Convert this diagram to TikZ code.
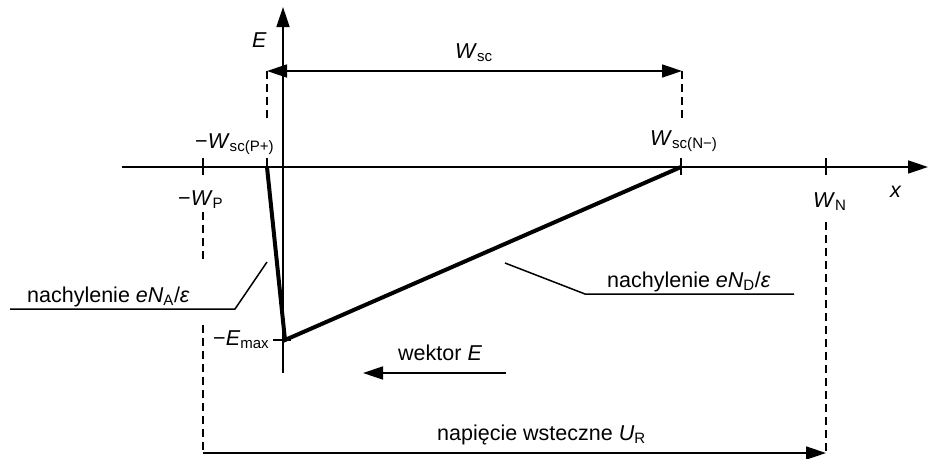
\documentclass[tikz,border=0pt]{standalone}
\usepackage{fontspec}
\setmainfont{Liberation Sans}
\usetikzlibrary{arrows.meta}
\newcommand{\vi}[1]{\textit{#1}}
\begin{document}
\begin{tikzpicture}[x=1pt,y=-1pt,
  axis/.style={line width=1.5pt},
  tip/.style={-{Triangle[length=20pt,width=13pt]}},
  bothtip/.style={{Triangle[length=20pt,width=13pt]}-{Triangle[length=20pt,width=13pt]}},
  guide/.style={line width=1.5pt, dash pattern=on 8pt off 5pt},
  field/.style={line width=4pt, line join=miter},
  leader/.style={line width=1.5pt},
  lbl/.style={inner sep=0pt, anchor=base west, font=\fontsize{21.5}{26}\selectfont},
]
\useasboundingbox (0,0) rectangle (929,458);
% axes
\coordinate (xs) at (122,167);
\coordinate (xe) at (928,167);
\coordinate (Es) at (283,373);
\coordinate (Ee) at (283,7);
\draw[axis,tip] (xs) -- (xe);
\draw[axis,tip] (Es) -- (Ee);
% ticks
\coordinate (tWPa) at (203,158); \coordinate (tWPb) at (203,175);
\coordinate (tPa) at (267,158);  \coordinate (tPb) at (267,167);
\coordinate (tNa) at (681,158);  \coordinate (tNb) at (681,175);
\coordinate (tWNa) at (826,158); \coordinate (tWNb) at (826,175);
\draw[axis] (tWPa) -- (tWPb);
\draw[axis] (tPa) -- (tPb);
\draw[axis] (tNa) -- (tNb);
\draw[axis] (tWNa) -- (tWNb);
% field profile
\coordinate (fP) at (267,167);
\coordinate (fM) at (285,340);
\coordinate (fN) at (681,167);
\draw[field] (fP) -- (fM) -- (fN);
\coordinate (emA) at (273,340); \coordinate (emB) at (291,340);
\draw[axis] (emA) -- (emB);
% Wsc dimension
\coordinate (wsL) at (267,71); \coordinate (wsR) at (682,71);
\coordinate (wsLb) at (267,118); \coordinate (wsRb) at (682,120);
\draw[axis,bothtip] (wsL) -- (wsR);
\draw[guide] (wsL) -- (wsLb);
\draw[guide] (wsR) -- (wsRb);
% lower guides
\coordinate (gPa) at (203,212); \coordinate (gPb) at (203,262);
\coordinate (gPc) at (203,325); \coordinate (gPd) at (203,453);
\coordinate (gNa) at (826,222); \coordinate (gNd) at (826,453);
\draw[guide] (gPa) -- (gPb);
\draw[guide] (gPc) -- (gPd);
\draw[guide] (gNa) -- (gNd);
\draw[axis,tip] (gPd) -- (gNd);
% wektor E arrow
\coordinate (vA) at (506,373); \coordinate (vB) at (363,373);
\draw[axis,tip] (vA) -- (vB);
% leaders
\coordinate (lA1) at (10,309); \coordinate (lA2) at (235,309); \coordinate (lA3) at (267,262);
\draw[leader] (lA1) -- (lA2) -- (lA3);
\coordinate (lD1) at (505,263); \coordinate (lD2) at (585,294); \coordinate (lD3) at (794,294);
\draw[leader] (lD1) -- (lD2) -- (lD3);
% labels
\node[lbl] (tE) at (252,47) {\vi{E}};
\node[lbl] (tWsc) at (455,58) {\vi{W}\textsubscript{sc}};
\node[lbl] (tWscP) at (195,148) {−\vi{W}\textsubscript{sc(P+)}};
\node[lbl] (tWP) at (178,205) {−\vi{W}\textsubscript{P}};
\node[lbl] (tWscN) at (650,145) {\vi{W}\textsubscript{sc(N−)}};
\node[lbl] (tWN) at (813,207) {\vi{W}\textsubscript{N}};
\node[lbl] (tx) at (890,197) {\vi{x}};
\node[lbl] (tNA) at (27,302) {nachylenie \vi{eN}\textsubscript{A}/\vi{ε}};
\node[lbl] (tND) at (607,287) {nachylenie \vi{eN}\textsubscript{D}/\vi{ε}};
\node[lbl] (tEm) at (213,345) {−\vi{E}\textsubscript{max}};
\node[lbl] (tv) at (398,360) {wektor \vi{E}};
\node[lbl] (tU) at (437,440) {napięcie wsteczne \vi{U}\textsubscript{R}};
\end{tikzpicture}
\end{document}
